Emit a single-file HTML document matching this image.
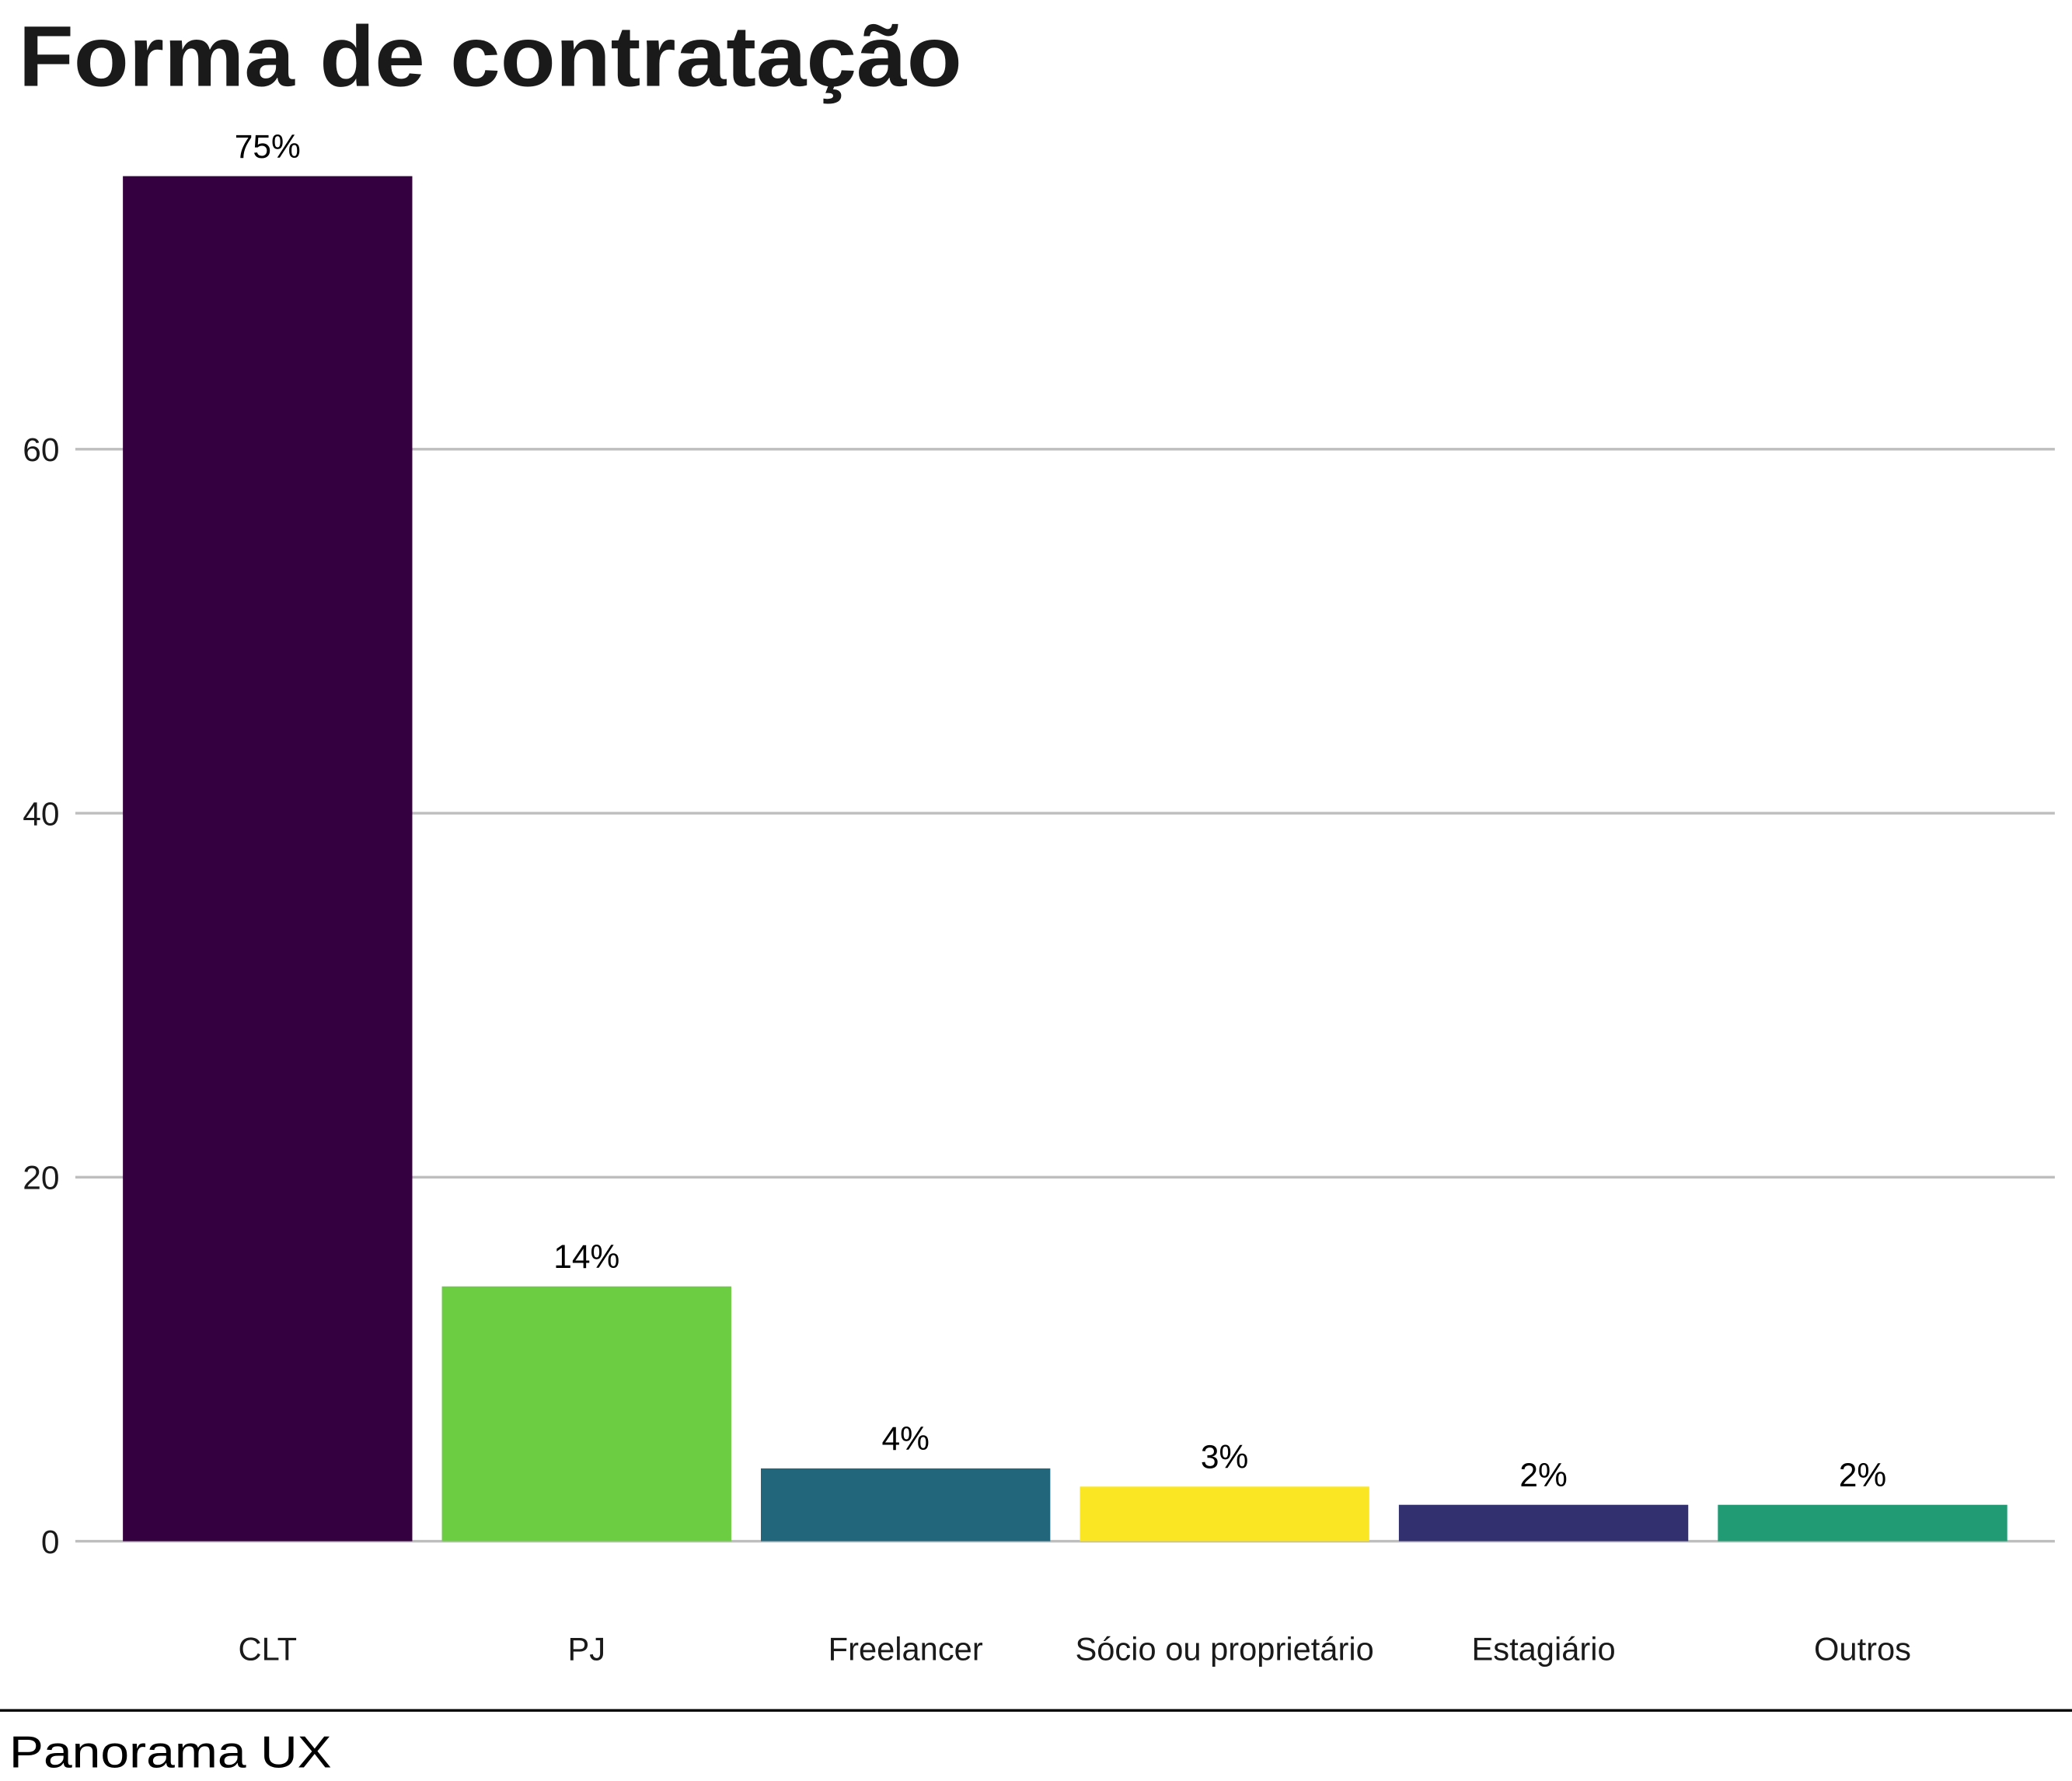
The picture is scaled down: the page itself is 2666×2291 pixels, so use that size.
<!DOCTYPE html>
<html><head><meta charset="utf-8"><style>
html,body{margin:0;padding:0;background:#fff;}
svg{display:block;font-family:"Liberation Sans",Arial,sans-serif;}
</style></head><body>
<svg id="chart" width="2666" height="2291" viewBox="0 0 1568 1347.4" xmlns="http://www.w3.org/2000/svg">
<text x="14" y="65" font-size="65" font-weight="bold" fill="#1a1a1a" textLength="714" lengthAdjust="spacingAndGlyphs">Forma de contratação</text>
<g id="grid"></g>
<g id="bars"></g>
<g id="labels"></g>
<line x1="0" x2="1568" y1="1294" y2="1294" stroke="#000" stroke-width="2"/>
<text x="7" y="1337" font-size="34" fill="#000" textLength="244" lengthAdjust="spacingAndGlyphs">Panorama UX</text>
</svg>
<script>
const categories = ["CLT","PJ","Freelancer","Sócio ou proprietário","Estagiário","Outros"];
const values = [75,14,4,3,2,2];
const valueLabels = ["75%","14%","4%","3%","2%","2%"];
const colors = ["#35003f","#6ccd42","#22667c","#fae622","#33306f","#219b73"];
const yTicks = [0,20,40,60];

const NS="http://www.w3.org/2000/svg";
const y0=1166, pxPerUnit=13.77;
function yScale(v){return y0 - v*pxPerUnit;}
const xStart=93, step=241.4, barW=219;
function xScale(i){return xStart + i*step;}
const grid=document.getElementById('grid'), bars=document.getElementById('bars'), labels=document.getElementById('labels');
yTicks.forEach(t=>{
  const l=document.createElementNS(NS,'line');
  
  
  l.setAttribute('x1',57);l.setAttribute('x2',1555);
  l.setAttribute('y1',yScale(t));l.setAttribute('y2',yScale(t));
  l.setAttribute('stroke','#bebebe');l.setAttribute('stroke-width','2');
  grid.appendChild(l);
  const tx=document.createElementNS(NS,'text');
  
  
  tx.setAttribute('x',45);tx.setAttribute('y',yScale(t)+9);
  tx.setAttribute('text-anchor','end');tx.setAttribute('font-size','25');tx.setAttribute('fill','#1a1a1a');
  tx.textContent=t;grid.appendChild(tx);
});
categories.forEach((c,i)=>{
  const r=document.createElementNS(NS,'rect');
  
  
  r.setAttribute('x',xScale(i));r.setAttribute('width',barW);
  r.setAttribute('y',yScale(values[i]));r.setAttribute('height',y0-yScale(values[i]));
  r.setAttribute('fill',colors[i]);
  bars.appendChild(r);
  const v=document.createElementNS(NS,'text');
  
  
  v.setAttribute('x',xScale(i)+barW/2);v.setAttribute('y',yScale(values[i])-14);
  v.setAttribute('text-anchor','middle');v.setAttribute('font-size','25');v.setAttribute('fill','#000');
  v.textContent=valueLabels[i];labels.appendChild(v);
  const x=document.createElementNS(NS,'text');
  
  
  x.setAttribute('x',xScale(i)+barW/2);x.setAttribute('y',1256);
  x.setAttribute('text-anchor','middle');x.setAttribute('font-size','24.5');x.setAttribute('fill','#1a1a1a');
  x.textContent=c;labels.appendChild(x);
});
</script>
</body></html>
